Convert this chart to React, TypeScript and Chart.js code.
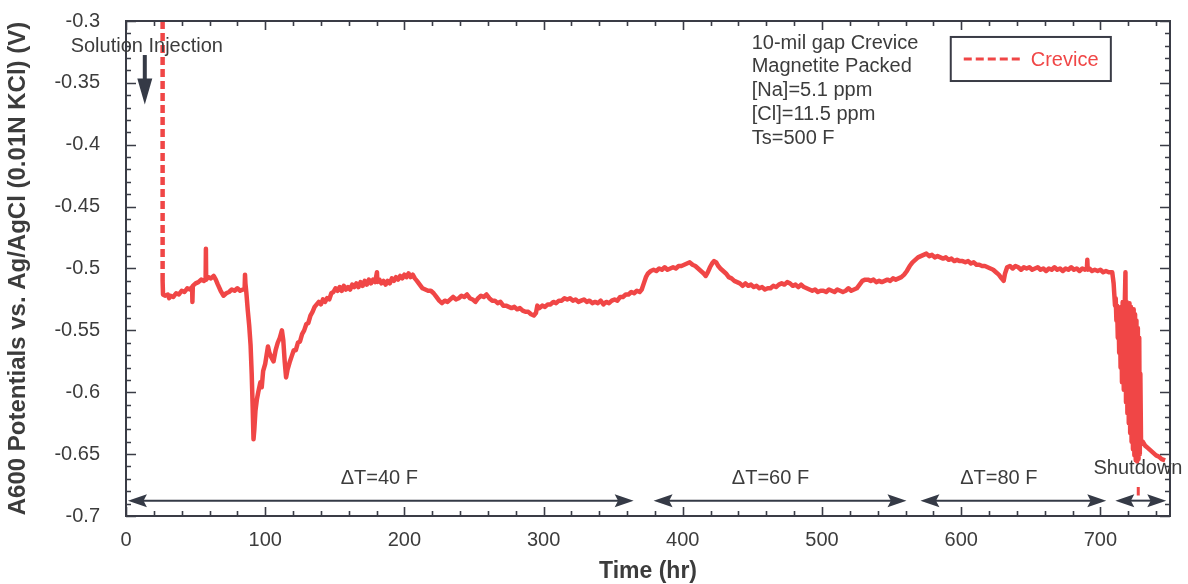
import { useEffect, useRef } from 'react';
import { Chart, registerables } from 'chart.js';

Chart.register(...registerables);

// ---------- data ----------
const seriesLabel = 'Crevice';

// [time (hr), potential (V)]
const creviceData: [number, number][] = [
  [26.3, -0.3], [26.3, -0.51], [26.6, -0.521], [28, -0.522], [30, -0.521], [31, -0.524], [32, -0.522], [34, -0.523],
  [36, -0.52], [38, -0.521], [40, -0.518], [42, -0.519], [44, -0.516], [46, -0.517], [47.5, -0.515], [47.7, -0.527],
  [48, -0.514], [50, -0.512], [52, -0.511], [54, -0.509], [56, -0.51], [57.2, -0.508], [57.4, -0.484], [57.6, -0.509],
  [59, -0.507], [61, -0.508], [63, -0.506], [64.5, -0.509], [66, -0.513], [68, -0.518], [70, -0.522], [72, -0.52],
  [74, -0.519], [76, -0.517], [78, -0.518], [80, -0.516], [82, -0.518], [84, -0.517], [85.2, -0.517], [85.5, -0.505],
  [85.8, -0.512], [86.5, -0.52], [87.5, -0.534], [88.5, -0.546], [89.5, -0.562], [90.3, -0.585], [91, -0.612], [91.6, -0.638],
  [92.2, -0.63], [93, -0.615], [94, -0.606], [95, -0.6], [96.5, -0.592], [97.5, -0.596], [98.5, -0.583], [100, -0.577],
  [101, -0.57], [102, -0.563], [103, -0.568], [104.5, -0.572], [106, -0.575], [107.5, -0.566], [109, -0.56], [110.5, -0.556],
  [112, -0.55], [113, -0.558], [114, -0.575], [115, -0.588], [116, -0.582], [117.5, -0.576], [119, -0.571], [120.5, -0.566],
  [122, -0.566], [123.5, -0.56], [125, -0.559], [126.5, -0.553], [128, -0.55], [129.5, -0.545], [131, -0.544], [132.5, -0.538],
  [134, -0.535], [135.5, -0.531], [137, -0.529], [138.5, -0.527], [140, -0.529], [141.5, -0.525], [143, -0.527], [144.5, -0.524],
  [146, -0.525], [147.5, -0.52], [149, -0.519], [150.5, -0.516], [152, -0.518], [153.5, -0.515], [155, -0.518], [156.5, -0.514],
  [158, -0.517], [159.5, -0.515], [161, -0.517], [162.5, -0.513], [164, -0.515], [165.5, -0.512], [167, -0.515], [168.5, -0.511],
  [170, -0.514], [171.5, -0.51], [173, -0.513], [174.5, -0.509], [176, -0.512], [177.5, -0.509], [179, -0.511], [180.3, -0.503],
  [180.6, -0.511], [182, -0.509], [183.5, -0.512], [185, -0.51], [186.5, -0.513], [188, -0.51], [189.5, -0.512], [191, -0.508],
  [192.5, -0.51], [194, -0.507], [195.5, -0.509], [197, -0.506], [198.5, -0.508], [200, -0.505], [201.5, -0.507], [203, -0.504],
  [204.5, -0.507], [206, -0.505], [207.5, -0.508], [209, -0.51], [211, -0.513], [213, -0.516], [215, -0.517], [217, -0.518],
  [219, -0.518], [221, -0.52], [223, -0.523], [225, -0.526], [227, -0.528], [229, -0.526], [231, -0.527], [233, -0.525],
  [235, -0.523], [237, -0.525], [239, -0.524], [241, -0.522], [243, -0.523], [245, -0.521], [247, -0.524], [249, -0.525],
  [251, -0.527], [253, -0.524], [255, -0.522], [257, -0.523], [259, -0.521], [261, -0.524], [263, -0.526], [265, -0.526],
  [267, -0.528], [269, -0.527], [271, -0.53], [273, -0.53], [275, -0.531], [277, -0.532], [279, -0.531], [281, -0.533],
  [283, -0.532], [285, -0.534], [287, -0.535], [289, -0.535], [291, -0.537], [293, -0.538], [294.5, -0.536], [295.5, -0.53],
  [297, -0.532], [299, -0.53], [301, -0.531], [303, -0.529], [305, -0.529], [307, -0.527], [309, -0.528], [311, -0.526],
  [313, -0.526], [315, -0.524], [317, -0.525], [319, -0.524], [321, -0.526], [323, -0.525], [325, -0.527], [327, -0.526],
  [329, -0.525], [331, -0.527], [333, -0.526], [335, -0.528], [337, -0.527], [339, -0.528], [341, -0.526], [343, -0.529],
  [345, -0.527], [347, -0.528], [349, -0.526], [351, -0.525], [353, -0.526], [355, -0.523], [357, -0.523], [359, -0.521],
  [361, -0.521], [363, -0.519], [365, -0.52], [367, -0.518], [369, -0.519], [370.5, -0.517], [372, -0.512], [373.5, -0.507],
  [375, -0.504], [377, -0.502], [379, -0.501], [381, -0.502], [383, -0.5], [385, -0.501], [387, -0.499], [389, -0.501],
  [391, -0.5], [393, -0.499], [395, -0.5], [397, -0.498], [399, -0.498], [401, -0.497], [403, -0.496], [405, -0.495],
  [407, -0.497], [409, -0.498], [411, -0.5], [413, -0.502], [415, -0.504], [416.5, -0.506], [418, -0.503], [419.5, -0.499],
  [421, -0.496], [422.5, -0.494], [424, -0.495], [425.5, -0.498], [427, -0.5], [429, -0.502], [431, -0.504], [433, -0.507],
  [435, -0.508], [437, -0.51], [439, -0.511], [441, -0.512], [443, -0.514], [445, -0.512], [447, -0.514], [449, -0.513],
  [451, -0.515], [453, -0.514], [455, -0.516], [457, -0.515], [459, -0.517], [461, -0.516], [463, -0.516], [465, -0.514],
  [467, -0.515], [469, -0.513], [471, -0.512], [473, -0.513], [475, -0.511], [477, -0.512], [479, -0.514], [481, -0.513],
  [483, -0.515], [485, -0.513], [487, -0.515], [489, -0.516], [491, -0.517], [493, -0.518], [495, -0.517], [497, -0.519],
  [499, -0.518], [501, -0.518], [503, -0.519], [505, -0.517], [507, -0.518], [509, -0.519], [511, -0.517], [513, -0.518],
  [515, -0.519], [517, -0.518], [519, -0.516], [521, -0.518], [523, -0.517], [525, -0.516], [527, -0.513], [529, -0.51],
  [531, -0.509], [533, -0.509], [535, -0.51], [537, -0.509], [539, -0.511], [541, -0.51], [543, -0.511], [545, -0.51],
  [547, -0.509], [549, -0.51], [551, -0.508], [553, -0.509], [555, -0.508], [557, -0.507], [559, -0.505], [561, -0.502],
  [563, -0.498], [565, -0.495], [567, -0.493], [569, -0.491], [571, -0.49], [573, -0.489], [575, -0.488], [577, -0.49],
  [579, -0.489], [581, -0.491], [583, -0.49], [585, -0.491], [587, -0.492], [589, -0.491], [591, -0.493], [593, -0.492],
  [595, -0.494], [597, -0.493], [599, -0.494], [601, -0.494], [603, -0.495], [605, -0.494], [607, -0.496], [609, -0.495],
  [611, -0.497], [613, -0.497], [615, -0.498], [617, -0.498], [619, -0.499], [621, -0.5], [623, -0.501], [625, -0.503],
  [627, -0.505], [629, -0.508], [630.5, -0.51], [631.5, -0.504], [633, -0.499], [635, -0.498], [637, -0.5], [639, -0.498],
  [641, -0.499], [643, -0.501], [645, -0.499], [647, -0.5], [649, -0.499], [651, -0.501], [653, -0.5], [655, -0.499],
  [657, -0.501], [659, -0.5], [661, -0.502], [663, -0.5], [665, -0.501], [667, -0.499], [669, -0.501], [671, -0.5],
  [673, -0.502], [675, -0.5], [677, -0.501], [679, -0.499], [681, -0.501], [683, -0.5], [685, -0.502], [687, -0.5],
  [689, -0.501], [690.3, -0.5], [690.6, -0.493], [690.9, -0.501], [692, -0.5], [694, -0.502], [696, -0.501], [698, -0.502],
  [700, -0.501], [702, -0.503], [704, -0.502], [706, -0.503], [708.5, -0.503], [709.5, -0.512], [710, -0.521], [710.5, -0.53],
  [711, -0.524], [711.5, -0.542], [712, -0.53], [712.5, -0.556], [713, -0.533], [713.5, -0.568], [714, -0.535], [714.5, -0.58],
  [715, -0.531], [715.5, -0.592], [716, -0.527], [716.8, -0.598], [717.5, -0.529], [718, -0.503], [718.4, -0.608], [718.9, -0.527],
  [719.4, -0.617], [719.9, -0.529], [720.4, -0.625], [720.9, -0.528], [721.4, -0.633], [721.9, -0.531], [722.4, -0.64], [722.9, -0.534],
  [723.4, -0.646], [723.9, -0.533], [724.4, -0.651], [724.9, -0.537], [725.4, -0.655], [725.9, -0.542], [726.4, -0.656], [726.9, -0.548],
  [727.4, -0.654], [727.9, -0.556], [728.3, -0.65], [728.7, -0.585], [729.2, -0.642], [730.5, -0.64], [732, -0.643], [734, -0.645],
  [736, -0.647], [738, -0.649], [740, -0.651], [742, -0.652], [744, -0.654], [746.5, -0.655],
];

// small dashed mark at shutdown
const shutdownMark: [number, number][] = [[727.2, -0.6765], [727.2, -0.6835]];

const xTickValues = [0, 100, 200, 300, 400, 500, 600, 700];
const yTickValues = [-0.7, -0.65, -0.6, -0.55, -0.5, -0.45, -0.4, -0.35, -0.3];

const phaseLabels = ['\u0394T=40 F', '\u0394T=60 F', '\u0394T=80 F', 'Shutdown'];
const phaseStart = [1.4, 379, 570.7, 710.7];
const phaseEnd = [364.7, 560.7, 704.2, 747.3];
const phaseLabelAt = [182, 463, 627, 727];

const infoLines = ['10-mil gap Crevice', 'Magnetite Packed', '[Na]=5.1 ppm', '[Cl]=11.5 ppm', 'Ts=500 F'];
const injectionLabel = 'Solution Injection';
const injectionTime = 13.5;

// ---------- style ----------
const FONT = "'Liberation Sans', Arial, Helvetica, sans-serif";
const RED = '#f04646';
const AXIS = '#3a3c46';
const TEXT = '#3c3c3c';
const ARROW = '#353a46';

function head(ctx: CanvasRenderingContext2D, x: number, y: number, dir: number, L = 19, H = 6.5) {
  ctx.beginPath();
  ctx.moveTo(x, y);
  ctx.lineTo(x - dir * L, y - H);
  ctx.lineTo(x - dir * L * 0.82, y);
  ctx.lineTo(x - dir * L, y + H);
  ctx.closePath();
  ctx.fill();
}

const overlay = {
  id: 'overlay',
  afterDatasetsDraw(chart: any) {
    const { ctx, chartArea: a, scales } = chart;
    const x = scales.x;
    const y = scales.y;
    ctx.save();

    // frame
    ctx.strokeStyle = AXIS;
    ctx.lineWidth = 2;
    ctx.strokeRect(a.left, a.top, a.right - a.left, a.bottom - a.top);

    // inward ticks, x
    ctx.lineWidth = 1.6;
    ctx.beginPath();
    for (let t = 0; t <= 740; t += 20) {
      const major = t % 100 === 0;
      const len = major ? 9 : 5;
      const px = Math.round(x.getPixelForValue(t)) + 0.5;
      ctx.moveTo(px, a.bottom);
      ctx.lineTo(px, a.bottom - len);
      ctx.moveTo(px, a.top);
      ctx.lineTo(px, a.top + len);
    }
    // inward ticks, y
    for (let i = 0; i <= 40; i++) {
      const v = -0.7 + i * 0.01;
      const major = i % 5 === 0;
      const len = major ? 10 : 5;
      const py = Math.round(y.getPixelForValue(v)) + 0.5;
      ctx.moveTo(a.left, py);
      ctx.lineTo(a.left + len, py);
      ctx.moveTo(a.right, py);
      ctx.lineTo(a.right - len, py);
    }
    ctx.stroke();

    // text
    ctx.fillStyle = TEXT;
    ctx.font = `20px ${FONT}`;
    ctx.textBaseline = 'middle';

    // injection label + arrow
    const ix = x.getPixelForValue(injectionTime);
    ctx.textAlign = 'center';
    ctx.fillText(injectionLabel, ix + 2, y.getPixelForValue(-0.3208));
    ctx.fillStyle = ARROW;
    const sTop = y.getPixelForValue(-0.3275);
    const hTop = y.getPixelForValue(-0.3465);
    const hTip = y.getPixelForValue(-0.3675);
    ctx.fillRect(ix - 2, sTop, 4, hTop - sTop + 2);
    ctx.beginPath();
    ctx.moveTo(ix - 7.5, hTop);
    ctx.lineTo(ix + 7.5, hTop);
    ctx.lineTo(ix, hTip);
    ctx.closePath();
    ctx.fill();

    // info block
    ctx.fillStyle = TEXT;
    ctx.textAlign = 'left';
    const infoX = x.getPixelForValue(449.5);
    infoLines.forEach((s, i) => {
      ctx.fillText(s, infoX, y.getPixelForValue(-0.318) + i * 23.7);
    });

    // legend box
    const lx0 = x.getPixelForValue(592.5);
    const lx1 = x.getPixelForValue(707.5);
    const ly0 = y.getPixelForValue(-0.3129);
    const ly1 = y.getPixelForValue(-0.3485);
    ctx.strokeStyle = AXIS;
    ctx.lineWidth = 2;
    ctx.strokeRect(lx0, ly0, lx1 - lx0, ly1 - ly0);
    const lyc = (ly0 + ly1) / 2;
    ctx.strokeStyle = RED;
    ctx.lineWidth = 3;
    ctx.setLineDash([8, 4]);
    ctx.beginPath();
    ctx.moveTo(lx0 + 13, lyc);
    ctx.lineTo(lx0 + 73, lyc);
    ctx.stroke();
    ctx.setLineDash([]);
    ctx.fillStyle = RED;
    ctx.fillText(seriesLabel, lx0 + 80, lyc + 1);

    // phase arrows
    const ay = y.getPixelForValue(-0.6876);
    ctx.strokeStyle = ARROW;
    ctx.fillStyle = ARROW;
    ctx.lineWidth = 2;
    phaseStart.forEach((s, i) => {
      const x0 = x.getPixelForValue(s);
      const x1 = x.getPixelForValue(phaseEnd[i]);
      ctx.beginPath();
      ctx.moveTo(x0 + 10, ay);
      ctx.lineTo(x1 - 10, ay);
      ctx.stroke();
      head(ctx, x0, ay, -1);
      head(ctx, x1, ay, 1);
    });
    ctx.fillStyle = TEXT;
    ctx.textAlign = 'center';
    phaseLabels.forEach((s, i) => {
      const ly = i === 3 ? y.getPixelForValue(-0.6615) : y.getPixelForValue(-0.6695);
      ctx.fillText(s, x.getPixelForValue(phaseLabelAt[i]), ly);
    });

    ctx.restore();
  },
};

export default function App() {
  const ref = useRef<HTMLCanvasElement>(null);
  useEffect(() => {
    document.body.style.margin = '0';
    const chart = new Chart(ref.current!, {
      type: 'line',
      data: {
        datasets: [
          {
            label: seriesLabel,
            data: creviceData.map(([t, v]) => ({ x: t, y: v })),
            borderColor: RED,
            backgroundColor: RED,
            borderWidth: 4.5,
            borderDash: [8, 4],
            borderJoinStyle: 'round',
            pointRadius: 0,
            tension: 0,
            segment: {
              borderDash: (ctx: any) => (ctx.p0DataIndex === 0 ? [8, 4] : []),
            },
          },
          {
            label: 'shutdown-mark',
            data: shutdownMark.map(([t, v]) => ({ x: t, y: v })),
            borderColor: RED,
            borderWidth: 3,
            pointRadius: 0,
          },
        ],
      },
      options: {
        animation: false,
        responsive: false,
        devicePixelRatio: 1,
        layout: { padding: { top: 21, right: 18, left: 0, bottom: 0 } },
        plugins: { legend: { display: false }, tooltip: { enabled: false } },
        scales: {
          x: {
            type: 'linear',
            min: 0,
            max: 750,
            afterBuildTicks: (s: any) => {
              s.ticks = xTickValues.map((v) => ({ value: v }));
            },
            afterFit: (s: any) => {
              s.height = 68;
              s.paddingLeft = 0;
              s.paddingRight = 0;
            },
            grid: { display: false, drawTicks: false },
            border: { display: false },
            ticks: {
              color: TEXT,
              font: { family: FONT, size: 20 },
              padding: 12,
              maxRotation: 0,
              autoSkip: false,
              callback: (v: any) => String(v),
            },
            title: {
              display: true,
              text: 'Time (hr)',
              color: TEXT,
              font: { family: FONT, size: 23, weight: 'bold' },
              padding: { top: 0, bottom: -1 },
            },
          },
          y: {
            type: 'linear',
            min: -0.7,
            max: -0.3,
            afterBuildTicks: (s: any) => {
              s.ticks = yTickValues.map((v) => ({ value: v }));
            },
            afterFit: (s: any) => {
              s.width = 126;
              s.paddingTop = 0;
              s.paddingBottom = 0;
            },
            grid: { display: false, drawTicks: false },
            border: { display: false },
            ticks: {
              color: TEXT,
              font: { family: FONT, size: 20 },
              padding: 26,
              autoSkip: false,
              callback: (v: any) => String(Number(Number(v).toFixed(2))),
            },
            title: {
              display: true,
              text: 'A600 Potentials vs. Ag/AgCl (0.01N KCl) (V)',
              color: TEXT,
              font: { family: FONT, size: 24, weight: 'bold' },
              padding: { top: 4, bottom: 0 },
            },
          },
        },
      },
      plugins: [overlay],
    });
    return () => chart.destroy();
  }, []);
  return (
    <div style={{ position: 'relative', width: 1188, height: 584 }}>
      <canvas ref={ref} width={1188} height={584} style={{ display: 'block' }} />
    </div>
  );
}
